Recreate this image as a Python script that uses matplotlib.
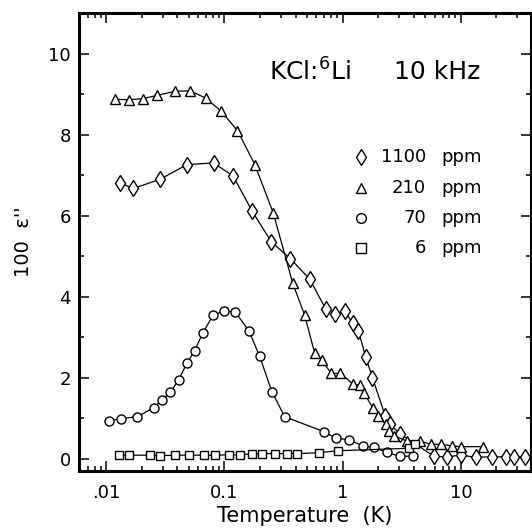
import matplotlib
matplotlib.use("Agg")
import matplotlib.pyplot as plt
from matplotlib.ticker import FixedLocator, FixedFormatter, LogLocator, NullFormatter, MultipleLocator

plt.rcParams['font.family'] = ['DejaVu Sans']
plt.rcParams['mathtext.default'] = 'regular'

# ---- data (Temperature in K, 100*eps'') ----
t_1100 = [0.0131, 0.0170, 0.0287, 0.0483, 0.0811, 0.1185, 0.172, 0.250, 0.362, 0.528,
          0.722, 0.855, 1.045, 1.22, 1.36, 1.57, 1.79, 2.30, 2.52, 3.05, 5.94, 7.6,
          9.96, 13.4, 18.3, 24.1, 28.1, 34.8]
e_1100 = [6.81, 6.67, 6.90, 7.26, 7.30, 6.98, 6.11, 5.35, 4.94, 4.43,
          3.69, 3.58, 3.64, 3.34, 3.16, 2.51, 2.00, 1.05, 0.85, 0.62, 0.06, 0.05,
          0.09, 0.04, 0.05, 0.05, 0.05, 0.05]

t_210 = [0.0119, 0.0157, 0.0207, 0.0272, 0.0385, 0.0515, 0.0695, 0.0938, 0.129, 0.181,
         0.259, 0.379, 0.477, 0.582, 0.667, 0.80, 0.96, 1.22, 1.40, 1.52, 1.80, 2.0,
         2.33, 2.49, 2.74, 3.48, 4.52, 5.57, 6.77, 8.39, 10.0, 15.3]
e_210 = [8.87, 8.86, 8.89, 8.97, 9.07, 9.08, 8.90, 8.58, 8.10, 7.26,
         6.07, 4.33, 3.55, 2.60, 2.44, 2.11, 2.11, 1.85, 1.81, 1.62, 1.26, 1.06,
         0.85, 0.69, 0.57, 0.44, 0.44, 0.36, 0.36, 0.32, 0.30, 0.30]

t_70 = [0.0105, 0.0133, 0.0184, 0.0252, 0.0296, 0.0349, 0.0410, 0.0483, 0.0560, 0.0659,
        0.0802, 0.0986, 0.124, 0.161, 0.199, 0.252, 0.324, 0.695, 0.877, 1.14, 1.48,
        1.85, 2.36, 3.06, 3.97]
e_70 = [0.94, 0.99, 1.04, 1.26, 1.45, 1.64, 1.95, 2.36, 2.67, 3.11,
        3.54, 3.65, 3.62, 3.16, 2.53, 1.66, 1.04, 0.67, 0.51, 0.47, 0.32,
        0.28, 0.16, 0.06, 0.07]

t_6 = [0.0128, 0.0156, 0.0233, 0.0284, 0.0383, 0.0505, 0.0671, 0.0830, 0.110, 0.1345,
       0.170, 0.210, 0.266, 0.340, 0.415, 0.627, 0.908, 3.65, 4.1]
e_6 = [0.09, 0.09, 0.09, 0.08, 0.09, 0.09, 0.09, 0.09, 0.10, 0.10,
       0.12, 0.13, 0.13, 0.13, 0.13, 0.15, 0.20, 0.26, 0.36]

xtick_vals = [0.01, 0.1, 1, 10]
xtick_labels = ['.01', '0.1', '1', '10']
ytick_vals = [0, 2, 4, 6, 8, 10]

legend_nums = ['1100', '210', '70', '6']

fig = plt.figure(figsize=(5.32, 5.31), dpi=100)
ax = fig.add_axes([79/532, 1-471/531, (531-79)/532, (471-13)/531])

mk = dict(color='black', lw=0.9, markerfacecolor='white', markeredgecolor='black', mew=1.0)
ax.plot(t_1100, e_1100, marker='d', ms=8, **mk, zorder=3)
ax.plot(t_210, e_210, marker='^', ms=6.5, **mk, zorder=3)
ax.plot(t_70, e_70, marker='o', ms=6.5, **mk, zorder=3)
ax.plot(t_6, e_6, marker='s', ms=5.5, **mk, zorder=3)

ax.set_xscale('log')
ax.set_xlim(0.0059, 39.2)
ax.set_ylim(-0.3, 11)

ax.xaxis.set_major_locator(FixedLocator(xtick_vals))
ax.xaxis.set_major_formatter(FixedFormatter(xtick_labels))
ax.xaxis.set_minor_locator(LogLocator(base=10, subs=range(2, 10), numticks=20))
ax.xaxis.set_minor_formatter(NullFormatter())
ax.yaxis.set_major_locator(FixedLocator(ytick_vals))
ax.yaxis.set_minor_locator(MultipleLocator(1))

ax.tick_params(which='both', direction='in', top=True, right=True, width=1.1, labelsize=13)
ax.tick_params(which='major', length=7)
ax.tick_params(which='minor', length=3.5)
ax.tick_params(axis='x', pad=9)
ax.tick_params(axis='y', pad=6)
for s in ax.spines.values():
    s.set_linewidth(2.2)

ax.set_xlabel('Temperature  (K)', fontsize=15, labelpad=3)
ax.set_ylabel("100  ε''", fontsize=14, labelpad=11)

ax.text(0.420, 0.871, 'KCl:$^{6}$Li', transform=ax.transAxes, fontsize=18, ha='left', va='center')
ax.text(0.697, 0.871, '10 kHz', transform=ax.transAxes, fontsize=18, ha='left', va='center')

markers = [('d', 8), ('^', 7), ('o', 7), ('s', 6.5)]
rows = [0.686, 0.618, 0.552, 0.487]
for (m, s), yy, num in zip(markers, rows, legend_nums):
    ax.plot([0.624], [yy], marker=m, ms=s, ls='none', markerfacecolor='white',
            markeredgecolor='black', mew=1.0, transform=ax.transAxes, clip_on=False)
    ax.text(0.768, yy, num, transform=ax.transAxes, fontsize=13, ha='right', va='center')
    ax.text(0.801, yy, 'ppm', transform=ax.transAxes, fontsize=13, ha='left', va='center')

fig.savefig('out.png', dpi=100)
